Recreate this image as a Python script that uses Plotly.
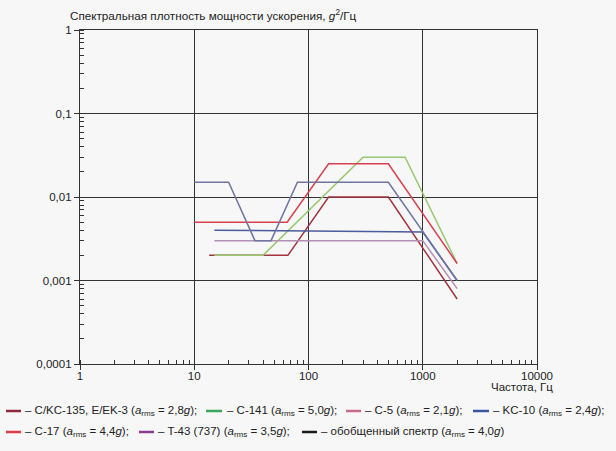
import plotly.graph_objects as go

# ---- data ----
kc135_f = [13.5, 66, 150, 500, 2000]
kc135_v = [0.002, 0.002, 0.01, 0.01, 0.0006]

c141_f = [15, 40, 300, 700, 2000]
c141_v = [0.002, 0.002, 0.03, 0.03, 0.0016]

c5_f = [15, 1000, 2000]
c5_v = [0.003, 0.003, 0.0008]

kc10_f = [15, 1000, 2000]
kc10_v = [0.004, 0.0038, 0.001]

c17_f = [10, 65, 150, 500, 2000]
c17_v = [0.005, 0.005, 0.025, 0.025, 0.0016]

t43_f = [10, 20, 34, 47, 80, 500, 2000]
t43_v = [0.015, 0.015, 0.003, 0.003, 0.015, 0.015, 0.001]

y_tickvals = [1, 0.1, 0.01, 0.001, 0.0001]
y_ticktext = ["1", "0,1", "0,01", "0,001", "0,0001"]
x_tickvals = [1, 10, 100, 1000, 10000]
x_ticktext = ["1", "10", "100", "1000", "10000"]

legend_labels = [
    "– C/KC-135, E/EK-3 (<i>a</i><sub>rms</sub> = 2,8<i>g</i>);",
    "– C-141 (<i>a</i><sub>rms</sub> = 5,0<i>g</i>);",
    "– C-5 (<i>a</i><sub>rms</sub> = 2,1<i>g</i>);",
    "– KC-10 (<i>a</i><sub>rms</sub> = 2,4<i>g</i>);",
    "– C-17 (<i>a</i><sub>rms</sub> = 4,4<i>g</i>);",
    "– T-43 (737) (<i>a</i><sub>rms</sub> = 3,5<i>g</i>);",
    "– обобщенный спектр (<i>a</i><sub>rms</sub> = 4,0<i>g</i>)",
]
legend_colors = ["#8e2b3a", "#3ba55c", "#c8688a", "#3d55a5", "#e23a4c", "#8b3c90", "#1a1a1a"]

W, H = 616, 451
L, R, T, B = 80, 537, 30, 364

def px(x):
    return (x - L) / (R - L)

def py(y):
    return (B - y) / (B - T)

fig = go.Figure()

series = [
    (kc135_f, kc135_v, "#a3343f"),
    (c141_f, c141_v, "#98c872"),
    (c5_f, c5_v, "#b28fb3"),
    (kc10_f, kc10_v, "#4c5c9c"),
    (c17_f, c17_v, "#d9404f"),
    (t43_f, t43_v, "#6f74a3"),
]
for f, v, c in series:
    fig.add_trace(go.Scatter(x=f, y=v, mode="lines",
                             line=dict(color=c, width=1.5),
                             showlegend=False, hoverinfo="skip"))

FONT = "Liberation Sans, Arial"

axis_common = dict(
    showline=True, linecolor="#333", linewidth=1.3, mirror=True,
    showgrid=True, gridcolor="#333", gridwidth=1.2,
    ticks="outside", ticklen=5, tickcolor="#333", tickwidth=1,
    tickfont=dict(family=FONT, size=11.5, color="#222"),
    zeroline=False,
)

fig.update_xaxes(type="log", range=[0, 4], tickvals=x_tickvals, ticktext=x_ticktext,
                 minor=dict(ticks="inside", ticklen=4, tickcolor="#333", dtick="D1", showgrid=False),
                 ticklabelstandoff=-4,
                 **axis_common)
fig.update_yaxes(type="log", range=[-4, 0], tickvals=y_tickvals, ticktext=y_ticktext,
                 minor=dict(ticks="inside", ticklen=4, tickcolor="#333", dtick="D1", showgrid=False),
                 **axis_common)

annotations = [
    dict(text="Спектральная плотность мощности ускорения, <i>g</i><sup>2</sup>/Гц",
         x=px(68), y=py(15), xref="paper", yref="paper", xanchor="left", yanchor="middle",
         showarrow=False, font=dict(family=FONT, size=11.7, color="#222")),
    dict(text="Частота, Гц",
         x=px(555), y=py(387), xref="paper", yref="paper", xanchor="right", yanchor="middle",
         showarrow=False, font=dict(family=FONT, size=11.5, color="#222")),
]

shapes = []
# legend layout: (swatch x0, swatch x1, text x, row y)
legend_pos = [
    (6, 21, 23, 411), (206, 222, 225, 411), (346, 361, 363, 411), (473, 489, 491, 411),
    (6, 21, 23, 432), (139, 154, 156, 432), (302, 317, 319, 432),
]
for (sx0, sx1, tx, ry), lab, col in zip(legend_pos, legend_labels, legend_colors):
    shapes.append(dict(type="line", xref="paper", yref="paper",
                       x0=px(sx0), x1=px(sx1), y0=py(ry), y1=py(ry),
                       line=dict(color=col, width=2.5)))
    annotations.append(dict(text=lab, x=px(tx), y=py(ry), xref="paper", yref="paper",
                            xanchor="left", yanchor="middle", showarrow=False,
                            font=dict(family=FONT, size=11.5, color="#222")))

fig.update_layout(
    width=W, height=H,
    margin=dict(l=L, r=W - R, t=T, b=H - B),
    paper_bgcolor="#f7f7f7", plot_bgcolor="#f7f7f7",
    showlegend=False,
    annotations=annotations, shapes=shapes,
)

fig.write_html("out.html")
